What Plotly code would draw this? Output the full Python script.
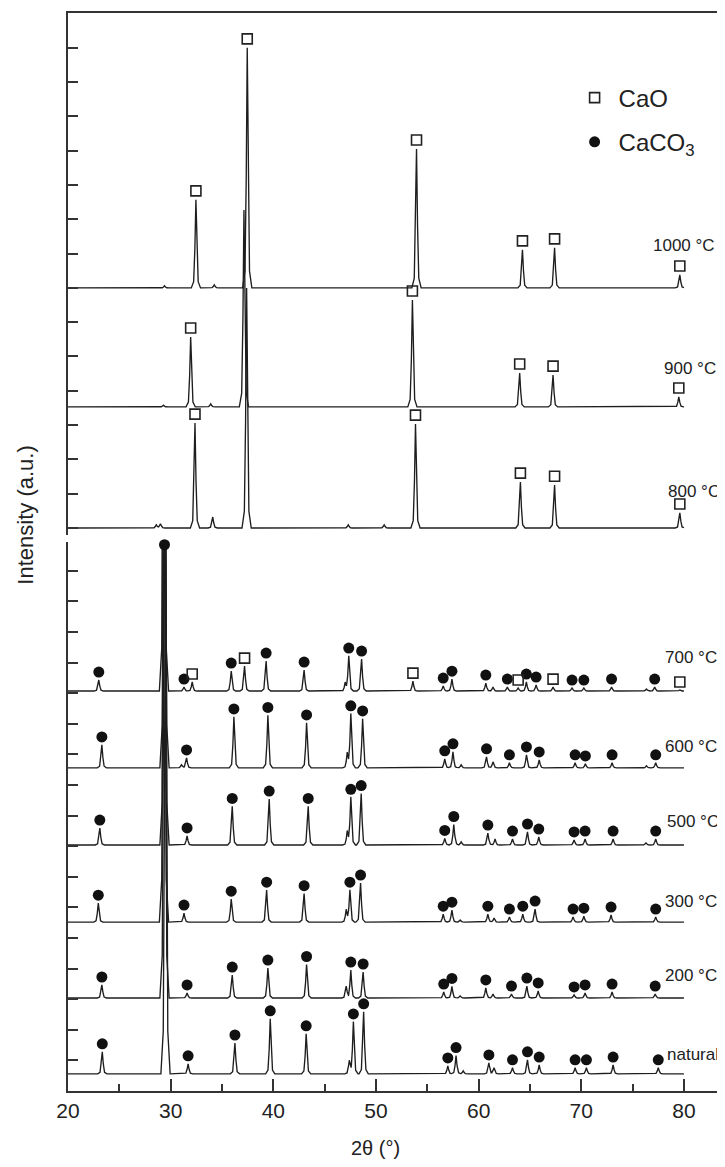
import numpy as np
import plotly.graph_objects as go

# ---------------- data ----------------
x_tick_vals = [20, 30, 40, 50, 60, 70, 80]

# upper panel (CaO region) : 800, 900, 1000 °C
upper_names = ["800 °C", "900 °C", "1000 °C"]
upper_offsets = [0, 3530, 7000]
upper_label_x = [81.0, 80.6, 80.0]
upper_label_y = [1050, 4660, 8250]

t800_pos = [28.6, 29.0, 32.37, 34.1, 37.4, 47.3, 50.8, 53.85, 64.07, 67.4, 79.6]
t800_int = [90, 120, 3060, 320, 7000, 90, 90, 3030, 1340, 1250, 440]
t800_phase = ["-", "-", "O", "-", "-", "-", "-", "O", "O", "O", "O"]

t900_pos = [29.3, 31.95, 33.9, 37.14, 53.55, 64.0, 67.25, 79.5]
t900_int = [50, 2040, 90, 5740, 3120, 990, 930, 290]
t900_phase = ["-", "O", "-", "-", "O", "O", "O", "O"]

t1000_pos = [29.4, 32.46, 34.25, 37.46, 53.95, 64.27, 67.4, 79.6]
t1000_int = [60, 2570, 90, 7000, 4050, 1110, 1170, 380]
t1000_phase = ["-", "O", "-", "O", "O", "O", "O", "O"]

# lower panel (CaCO3 region) : natural ... 700 °C
lower_names = ["natural", "200 °C", "300 °C", "500 °C", "600 °C", "700 °C"]
lower_offsets = [560, 3040, 5520, 8040, 10560, 13070]
lower_label_x = [80.9, 80.7, 80.7, 80.85, 80.65, 80.7]
lower_label_y = [1209, 3758, 6180, 8791, 11242, 14150]

nat_pos = [23.34, 29.5, 31.7, 36.26, 39.7, 43.2, 47.4, 47.8, 48.8, 57.0, 57.8, 58.5,
           61.0, 61.5, 63.3, 64.76, 65.9, 69.4, 70.5, 73.1, 77.5]
nat_int = [720, 20000, 330, 1010, 1800, 1310, 420, 1700, 2030, 260, 600, 100,
           360, 200, 200, 460, 290, 200, 200, 290, 200]
nat_phase = ["C", "-", "C", "C", "C", "C", "-", "C", "C", "C", "C", "-",
             "C", "-", "C", "C", "C", "C", "C", "C", "C"]

t200_pos = [23.3, 29.4, 31.6, 36.0, 39.47, 43.24, 47.1, 47.55, 48.75, 56.6, 57.4, 58.2,
            60.7, 61.4, 63.2, 64.7, 65.8, 69.3, 70.37, 73.0, 77.2]
t200_int = [425, 20000, 165, 750, 980, 1095, 390, 915, 850, 195, 380, 65,
            330, 130, 130, 390, 230, 100, 165, 195, 130]
t200_phase = ["C", "-", "C", "C", "C", "C", "-", "C", "C", "C", "C", "-",
              "C", "-", "C", "C", "C", "C", "C", "C", "C"]

t300_pos = [22.95, 29.35, 31.3, 35.9, 39.35, 43.0, 47.1, 47.46, 48.5, 56.55, 57.4, 58.2,
            60.9, 61.5, 63.0, 64.3, 65.5, 69.2, 70.25, 72.9, 77.25]
t300_int = [620, 20000, 295, 750, 1045, 930, 390, 1045, 1275, 260, 390, 65,
            260, 130, 165, 260, 425, 165, 195, 230, 165]
t300_phase = ["C", "-", "C", "C", "C", "C", "-", "C", "C", "C", "C", "-",
              "C", "-", "C", "C", "C", "C", "C", "C", "C"]

t500_pos = [23.1, 29.4, 31.6, 36.0, 39.6, 43.4, 47.2, 47.55, 48.56, 56.7, 57.58, 58.3,
            60.9, 61.6, 63.3, 64.76, 65.86, 69.3, 70.37, 73.1, 76.3, 77.25]
t500_int = [555, 20000, 295, 1260, 1500, 1260, 425, 1560, 1680, 215, 670, 100,
            390, 195, 195, 425, 260, 165, 195, 195, 65, 195]
t500_phase = ["C", "-", "C", "C", "C", "C", "-", "C", "C", "C", "C", "-",
              "C", "-", "C", "C", "C", "C", "C", "C", "-", "C"]

t600_pos = [23.3, 29.4, 31.05, 31.55, 36.16, 39.47, 43.24, 47.2, 47.55, 48.7, 56.7, 57.5,
            58.3, 60.77, 61.4, 63.0, 64.66, 65.9, 69.4, 70.4, 73.0, 76.35, 77.25]
t600_int = [750, 20000, 100, 325, 1665, 1715, 1470, 460, 1765, 1600, 295, 525,
            100, 360, 195, 165, 425, 260, 165, 130, 165, 65, 165]
t600_phase = ["C", "-", "-", "C", "C", "C", "C", "-", "C", "C", "C", "C",
              "-", "C", "-", "C", "C", "C", "C", "C", "C", "-", "C"]

t700_pos = [23.0, 29.35, 31.3, 32.1, 35.9, 37.2, 39.3, 43.0, 47.0, 47.35, 48.6, 53.6,
            56.55, 57.4, 60.7, 61.4, 62.8, 63.85, 64.65, 65.6, 67.25, 69.1, 70.25,
            72.95, 76.35, 77.15, 79.6]
t700_int = [360, 20000, 130, 295, 655, 815, 980, 685, 260, 1145, 1045, 325,
            165, 390, 260, 130, 130, 100, 295, 195, 130, 100, 100,
            130, 65, 130, 35]
t700_phase = ["C", "-", "C", "O", "C", "O", "C", "C", "-", "C", "C", "O",
              "C", "C", "C", "-", "C", "O", "C", "C", "O", "C", "C",
              "C", "-", "C", "O"]

# the clipped 29.4° calcite reflection is marked once at the top of the lower panel
caco3_top_x = [29.4]
caco3_top_y = [17850]

# ---------------- styling ----------------
PEAK_DX = [-0.45, -0.22, -0.1, 0.0, 0.1, 0.22, 0.45]
PEAK_SHAPE = [0.0, 0.07, 0.45, 1.0, 0.45, 0.07, 0.0]
MARK_GAP = 260
LINE_COLOR = "#1e1e1e"
LINE_WIDTH = 1.35
FONT = "Liberation Sans, Arial, sans-serif"
X0, X1 = 20, 80


def pattern_xy(pos, hgt, offset):
    xs = {float(X0), float(X1)}
    for p in pos:
        for d in PEAK_DX:
            x = round(p + d, 4)
            if X0 <= x <= X1:
                xs.add(x)
    xs = np.array(sorted(xs))
    ys = np.full(xs.shape, float(offset))
    dx = np.array(PEAK_DX)
    for p, h in zip(pos, hgt):
        ys += h * np.interp(xs, dx + p, PEAK_SHAPE, left=0.0, right=0.0)
    return xs, ys


def marks(pos, hgt, phase, offset, which):
    mx, my = [], []
    for p, h, ph in zip(pos, hgt, phase):
        if ph == which:
            mx.append(p)
            my.append(offset + h + MARK_GAP)
    return mx, my


upper_sets = [(t800_pos, t800_int, t800_phase), (t900_pos, t900_int, t900_phase),
              (t1000_pos, t1000_int, t1000_phase)]
lower_sets = [(nat_pos, nat_int, nat_phase), (t200_pos, t200_int, t200_phase),
              (t300_pos, t300_int, t300_phase), (t500_pos, t500_int, t500_phase),
              (t600_pos, t600_int, t600_phase), (t700_pos, t700_int, t700_phase)]

fig = go.Figure()

# patterns
for (pos, hgt, ph), off, name in zip(upper_sets, upper_offsets, upper_names):
    xs, ys = pattern_xy(pos, hgt, off)
    fig.add_trace(go.Scatter(x=xs, y=ys, mode="lines", name=name, showlegend=False,
                             line=dict(color=LINE_COLOR, width=LINE_WIDTH),
                             xaxis="x2", yaxis="y2", hoverinfo="skip"))
for (pos, hgt, ph), off, name in zip(lower_sets, lower_offsets, lower_names):
    xs, ys = pattern_xy(pos, hgt, off)
    fig.add_trace(go.Scatter(x=xs, y=ys, mode="lines", name=name, showlegend=False,
                             line=dict(color=LINE_COLOR, width=LINE_WIDTH),
                             xaxis="x", yaxis="y", hoverinfo="skip"))

# phase markers
ux, uy, lx, ly, cx, cy = [], [], [], [], [], []
for (pos, hgt, ph), off in zip(upper_sets, upper_offsets):
    a, b = marks(pos, hgt, ph, off, "O")
    ux += a; uy += b
for (pos, hgt, ph), off in zip(lower_sets, lower_offsets):
    a, b = marks(pos, hgt, ph, off, "O")
    lx += a; ly += b
    a, b = marks(pos, hgt, ph, off, "C")
    cx += a; cy += b

sq = dict(symbol="square-open", size=10, color="#222", line=dict(width=1.6, color="#222"))
ci = dict(symbol="circle", size=11, color="#111", line=dict(width=0))

fig.add_trace(go.Scatter(x=ux, y=uy, mode="markers", name="CaO", marker=sq,
                         legendgroup="cao", xaxis="x2", yaxis="y2", cliponaxis=False))
fig.add_trace(go.Scatter(x=cx, y=cy, mode="markers", name="CaCO<sub>3</sub>", marker=ci,
                         legendgroup="caco3", xaxis="x", yaxis="y", cliponaxis=False))
fig.add_trace(go.Scatter(x=lx, y=ly, mode="markers", name="CaO", marker=sq, showlegend=False,
                         legendgroup="cao", xaxis="x", yaxis="y", cliponaxis=False))
fig.add_trace(go.Scatter(x=caco3_top_x, y=caco3_top_y, mode="markers", name="CaCO<sub>3</sub>",
                         marker=ci, showlegend=False, legendgroup="caco3",
                         xaxis="x", yaxis="y", cliponaxis=False))

# sample labels
ann = []
for name, x, y in zip(upper_names, upper_label_x, upper_label_y):
    ann.append(dict(x=x, y=y, xref="x2", yref="y2", text=name, showarrow=False,
                    xanchor="center", yanchor="middle",
                    font=dict(family=FONT, size=17, color="#222")))
for name, x, y in zip(lower_names, lower_label_x, lower_label_y):
    ann.append(dict(x=x, y=y, xref="x", yref="y", text=name, showarrow=False,
                    xanchor="center", yanchor="middle",
                    font=dict(family=FONT, size=17, color="#222")))
ann.append(dict(x=50, y=-0.053, xref="x", yref="paper", text="2θ (°)", showarrow=False,
                xanchor="center", yanchor="middle", font=dict(family=FONT, size=20, color="#222")))
ann.append(dict(x=-0.065, y=0.534, xref="paper", yref="paper", text="Intensity (a.u.)",
                showarrow=False, textangle=-90, xanchor="center", yanchor="middle",
                font=dict(family=FONT, size=22, color="#222")))

axis_common = dict(showgrid=False, zeroline=False, linecolor="#333", linewidth=2)

# page body adds an 8 px margin: the figure is sized/margined so the plot frame
# lands at the reference position in the 725 x 1167 window
fig.update_layout(
    width=717, height=1159,
    margin=dict(l=60, r=0, t=5, b=76),
    paper_bgcolor="white", plot_bgcolor="white",
    font=dict(family=FONT, color="#222"),
    annotations=ann,
    showlegend=True,
    legend=dict(x=0.765, y=0.942, xanchor="left", yanchor="top",
                font=dict(family=FONT, size=24, color="#222"),
                bgcolor="rgba(0,0,0,0)", tracegroupgap=10, itemwidth=38),
    xaxis=dict(domain=[0, 1], range=[X0, 84], anchor="y", showline=True,
               tickvals=x_tick_vals, ticks="inside", ticklen=12, tickwidth=1.5,
               tickcolor="#333", tickfont=dict(family=FONT, size=21, color="#222"),
               minor=dict(dtick=5, tick0=0, ticks="inside", ticklen=7, tickwidth=1.5,
                          tickcolor="#333"),
               **axis_common),
    yaxis=dict(domain=[0, 0.5093], range=[0, 17941], anchor="x", showline=True,
               tickvals=list(range(1000, 18000, 1000)), ticks="inside", ticklen=10,
               tickwidth=1.5, tickcolor="#333", showticklabels=False, **axis_common),
    xaxis2=dict(domain=[0, 1], range=[X0, 84], anchor="y2", side="top", showline=True,
                matches="x", ticks="", showticklabels=False, **axis_common),
    yaxis2=dict(domain=[0.5158, 1], range=[-204, 15015], anchor="x2", showline=True,
                tickvals=list(range(0, 15000, 1000)), ticks="inside", ticklen=10,
                tickwidth=1.5, tickcolor="#333", showticklabels=False, **axis_common),
)

fig.write_html("out.html")
